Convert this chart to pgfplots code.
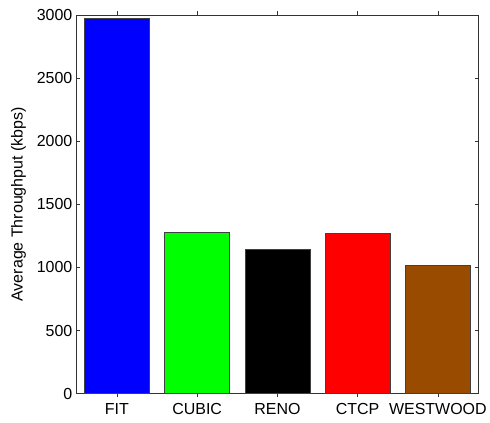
\documentclass[border=0pt]{standalone}
\usepackage{fontspec}
\setmainfont{Liberation Sans}
\usepackage{pgfplots}
\pgfplotsset{compat=1.18}
\definecolor{mbrown}{RGB}{153,76,0}
\begin{document}
\begin{tikzpicture}
\begin{axis}[
  at={(0,0)}, anchor=south west,
  scale only axis,
  width=402pt, height=379.5pt,
  xmin=0.5, xmax=5.5,
  ymin=0, ymax=3000,
  xtick={1,2,3,4,5},
  xticklabels={FIT,CUBIC,RENO,CTCP,WESTWOOD},
  ytick={0,500,1000,1500,2000,2500,3000},
  tick align=inside,
  major tick length=3.5pt,
  xtick pos=both, ytick pos=both,
  axis line style={black!80, line width=0.8pt},
  tick style={black!80, line width=0.8pt},
  /pgf/number format/assume math mode=true,
  /pgf/number format/1000 sep={},
  tick label style={font=\fontsize{16}{19}\selectfont},
  label style={font=\fontsize{16}{19}\selectfont},
  ylabel={Average Throughput (kbps)},
  ylabel style={yshift=4pt},
  xticklabel style={yshift=-3pt},
  yticklabel style={xshift=-1pt},
  ybar, bar width=0.81, bar shift=0pt,
]
\addplot[fill={rgb,255:red,0;green,0;blue,255}, draw=black!75, line width=0.6pt] coordinates {(1,2970)};
\addplot[fill={rgb,255:red,0;green,255;blue,0}, draw=black!75, line width=0.6pt] coordinates {(2,1278)};
\addplot[fill=black, draw=black!75, line width=0.6pt] coordinates {(3,1147)};
\addplot[fill={rgb,255:red,255;green,0;blue,0}, draw=black!75, line width=0.6pt] coordinates {(4,1267)};
\addplot[fill=mbrown, draw=black!75, line width=0.6pt] coordinates {(5,1015)};
\end{axis}
\useasboundingbox (-77pt,-29pt) rectangle (413pt,394.5pt);
\end{tikzpicture}
\end{document}
